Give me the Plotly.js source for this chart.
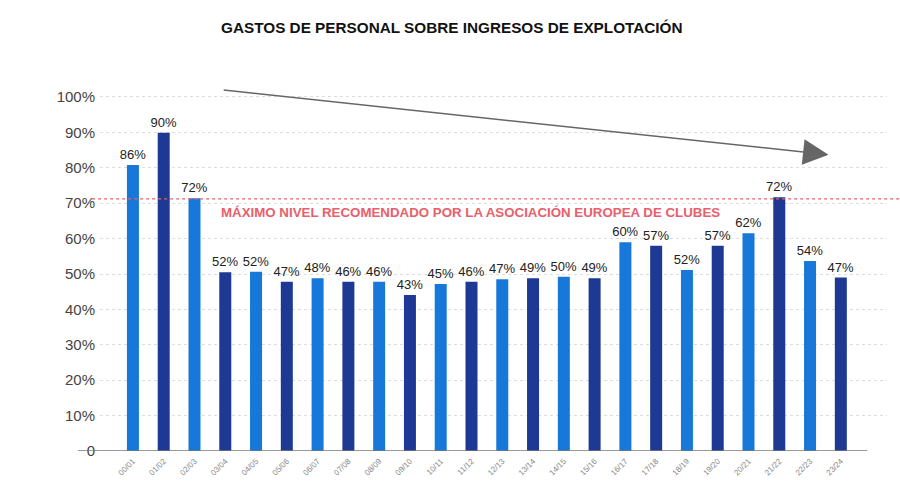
<!DOCTYPE html>
<html>
<head>
<meta charset="utf-8">
<script src="https://cdn.plot.ly/plotly-3.0.1.min.js"></script>
<style>html,body{margin:0;padding:0;background:#fff;}#chart{width:900px;height:484px;}</style>
</head>
<body>
<div id="chart"></div>
<script>
// Seasons (categories)
const seasons = ["00/01","01/02","02/03","03/04","04/05","05/06","06/07","07/08","08/09","09/10","10/11","11/12",
                 "12/13","13/14","14/15","15/16","16/17","17/18","18/19","19/20","20/21","21/22","22/23","23/24"];
// Bar heights as drawn in the picture (%)
const barHeights = [80.8, 89.9, 71.4, 50.5, 50.6, 47.8, 48.8, 47.8, 47.8, 44.1, 47.2, 47.8,
                    48.5, 48.8, 49.2, 48.8, 59.0, 58.0, 51.1, 58.0, 61.5, 71.7, 53.7, 49.0];
// Printed value labels (%)
const labelValues = [86, 90, 72, 52, 52, 47, 48, 46, 46, 43, 45, 46,
                     47, 49, 50, 49, 60, 57, 52, 57, 62, 72, 54, 47];
// Y tick values / labels
const yTickVals = [0, 10, 20, 30, 40, 50, 60, 70, 80, 90, 100];
const yTickText = ["0", "10%", "20%", "30%", "40%", "50%", "60%", "70%", "80%", "90%", "100%"];
// Recommended maximum line
const recommendedMax = 71.2;
const recommendedText = "MÁXIMO NIVEL RECOMENDADO POR LA ASOCIACIÓN EUROPEA DE CLUBES";

const lightBlue = "#1878d9";
const darkBlue = "#1d3993";
const colors = seasons.map((s, i) => i % 2 === 0 ? lightBlue : darkBlue);

const trace = {
  type: "bar",
  x: seasons,
  y: barHeights,
  text: labelValues.map(v => v + "%"),
  textposition: "outside",
  constraintext: "none",
  cliponaxis: false,
  textfont: {family: "Liberation Sans, Arial, sans-serif", size: 13, color: "#222"},
  marker: {color: colors},
  hoverinfo: "skip"
};

const layout = {
  width: 900,
  height: 484,
  margin: {l: 100, r: 13, t: 80, b: 33},
  paper_bgcolor: "#fff",
  plot_bgcolor: "#fff",
  showlegend: false,
  bargap: 0.61,
  title: {
    text: "<b>GASTOS DE PERSONAL SOBRE INGRESOS DE EXPLOTACIÓN</b>",
    x: 0.502, xanchor: "center", y: 0.942, yanchor: "middle",
    font: {family: "Liberation Sans Narrow, Liberation Sans, Arial, sans-serif", size: 15.3, color: "#111"}
  },
  xaxis: {
    type: "category",
    range: [-1.07, 24.5],
    showgrid: false,
    zeroline: false,
    showline: false,
    tickangle: -45,
    ticks: "",
    ticklabelstandoff: 3,
    tickfont: {family: "Liberation Sans, Arial, sans-serif", size: 8, color: "#888"},
    fixedrange: true
  },
  yaxis: {
    range: [0, 104.8],
    tickvals: yTickVals,
    ticktext: yTickText,
    showgrid: true,
    gridcolor: "#dddddd",
    griddash: "dot",
    gridwidth: 1,
    zeroline: false,
    showline: false,
    ticks: "",
    ticklabelstandoff: 4,
    tickfont: {family: "Liberation Sans, Arial, sans-serif", size: 15, color: "#444"},
    fixedrange: true
  },
  shapes: [
    {type: "line", xref: "paper", yref: "y", x0: -0.028, x1: 0.975, y0: 0, y1: 0,
     line: {color: "#777", width: 1.5}},
    {type: "line", xref: "paper", yref: "y", x0: -0.01, x1: 1.02, y0: recommendedMax, y1: recommendedMax,
     line: {color: "#e8606a", width: 1.2, dash: "dot"}}
  ],
  annotations: [
    {xref: "paper", yref: "y", x: 0.471, y: 67.5, xanchor: "center", yanchor: "middle",
     text: "<b>" + recommendedText + "</b>", showarrow: false,
     font: {family: "Liberation Sans, Arial, sans-serif", size: 13.3, color: "#e8606a"}},
    {xref: "x", yref: "y", axref: "x", ayref: "y",
     x: 22.6, y: 83.7, ax: 2.9, ay: 102,
     text: "", showarrow: true, arrowhead: 2, arrowsize: 3.4, arrowwidth: 1.5, arrowcolor: "#666"}
  ]
};

Plotly.newPlot("chart", [trace], layout, {displayModeBar: false, staticPlot: true});
</script>
</body>
</html>
